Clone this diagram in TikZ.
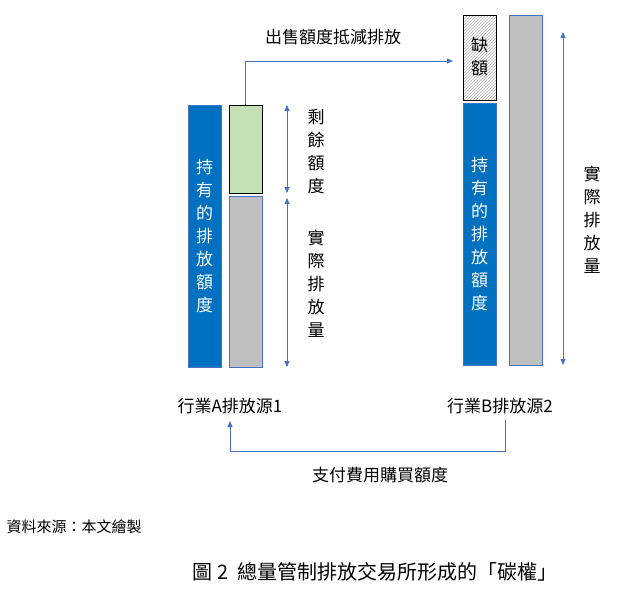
\documentclass[tikz,border=0pt]{standalone}
\usepackage{fontspec}
\setmainfont{Noto Sans CJK TC}
\newfontfamily\serifcjk{Noto Sans CJK TC}
\usetikzlibrary{patterns,arrows.meta}
\definecolor{barblue}{RGB}{0,112,192}
\definecolor{bargreen}{RGB}{197,224,180}
\definecolor{bargray}{RGB}{191,191,191}
\definecolor{linkblue}{RGB}{68,114,196}
\tikzset{
  vtext/.style={align=center, font=\fontsize{17}{23}\selectfont},
  lbl/.style={font=\fontsize{17}{20}\selectfont},
  link/.style={draw=linkblue, line width=0.8pt, -{Triangle[length=6pt,width=5pt]}},
  span/.style={draw=linkblue, line width=0.8pt, {Triangle[length=6pt,width=5pt]}-{Triangle[length=6pt,width=5pt]}},
}
\begin{document}
\begin{tikzpicture}[x=1pt, y=-1pt]
  \useasboundingbox (0,0) rectangle (617,600);

  % bars of source A
  \filldraw[fill=barblue, draw=linkblue] (188,105) rectangle (221,367);
  \node[vtext, white] (holdA) at (204.5,236) {持\\有\\的\\排\\放\\額\\度};
  \filldraw[fill=bargreen, draw=black, line width=1pt] (229,105) rectangle (262,193);
  \filldraw[fill=bargray, draw=linkblue] (229,196) rectangle (262,367);
  \coordinate (greentop) at (245.5,105);

  % bars of source B
  \filldraw[pattern=north east lines, pattern color=gray!60, draw=black, line width=1pt] (463,15) rectangle (496,100);
  \node[vtext] (lack) at (479.5,57) {缺\\額};
  \filldraw[fill=barblue, draw=linkblue] (463,103) rectangle (496,365);
  \node[vtext, white] (holdB) at (479.5,234) {持\\有\\的\\排\\放\\額\\度};
  \filldraw[fill=bargray, draw=linkblue] (509,15) rectangle (542,365);

  % spans
  \coordinate (s1) at (287,105); \coordinate (s2) at (287,193);
  \coordinate (s3) at (287,198); \coordinate (s4) at (287,367);
  \coordinate (s5) at (563,32);  \coordinate (s6) at (563,365);
  \draw[span] (s1) -- (s2);
  \draw[span] (s3) -- (s4);
  \draw[span] (s5) -- (s6);
  \node[vtext] (rest) at (316,152) {剩\\餘\\額\\度};
  \node[vtext] (actA) at (316,284) {實\\際\\排\\放\\量};
  \node[vtext] (actB) at (592,220) {實\\際\\排\\放\\量};

  % sources
  \node[lbl] (srcA) at (230,406) {行業A排放源1};
  \node[lbl] (srcB) at (500,406) {行業B排放源2};

  % trades
  \coordinate (sell) at (453,61);
  \draw[link] (greentop) |- (sell);
  \node[lbl] (selllbl) at (333,37) {出售額度抵減排放};
  \coordinate (pay) at (505,420);
  \coordinate (paid) at (230,421);
  \draw[link] (pay) -- (505,451) -| (paid);
  \node[lbl] (paylbl) at (380,475) {支付費用購買額度};

  % source and caption
  \node[anchor=west, font=\serifcjk\fontsize{15}{16}\selectfont] (note) at (3,527) {資料來源：本文繪製};
  \node[font=\serifcjk\fontsize{20}{22}\selectfont] (caption) at (375,572) {圖 2\ \ 總量管制排放交易所形成的「碳權」};
\end{tikzpicture}
\end{document}
